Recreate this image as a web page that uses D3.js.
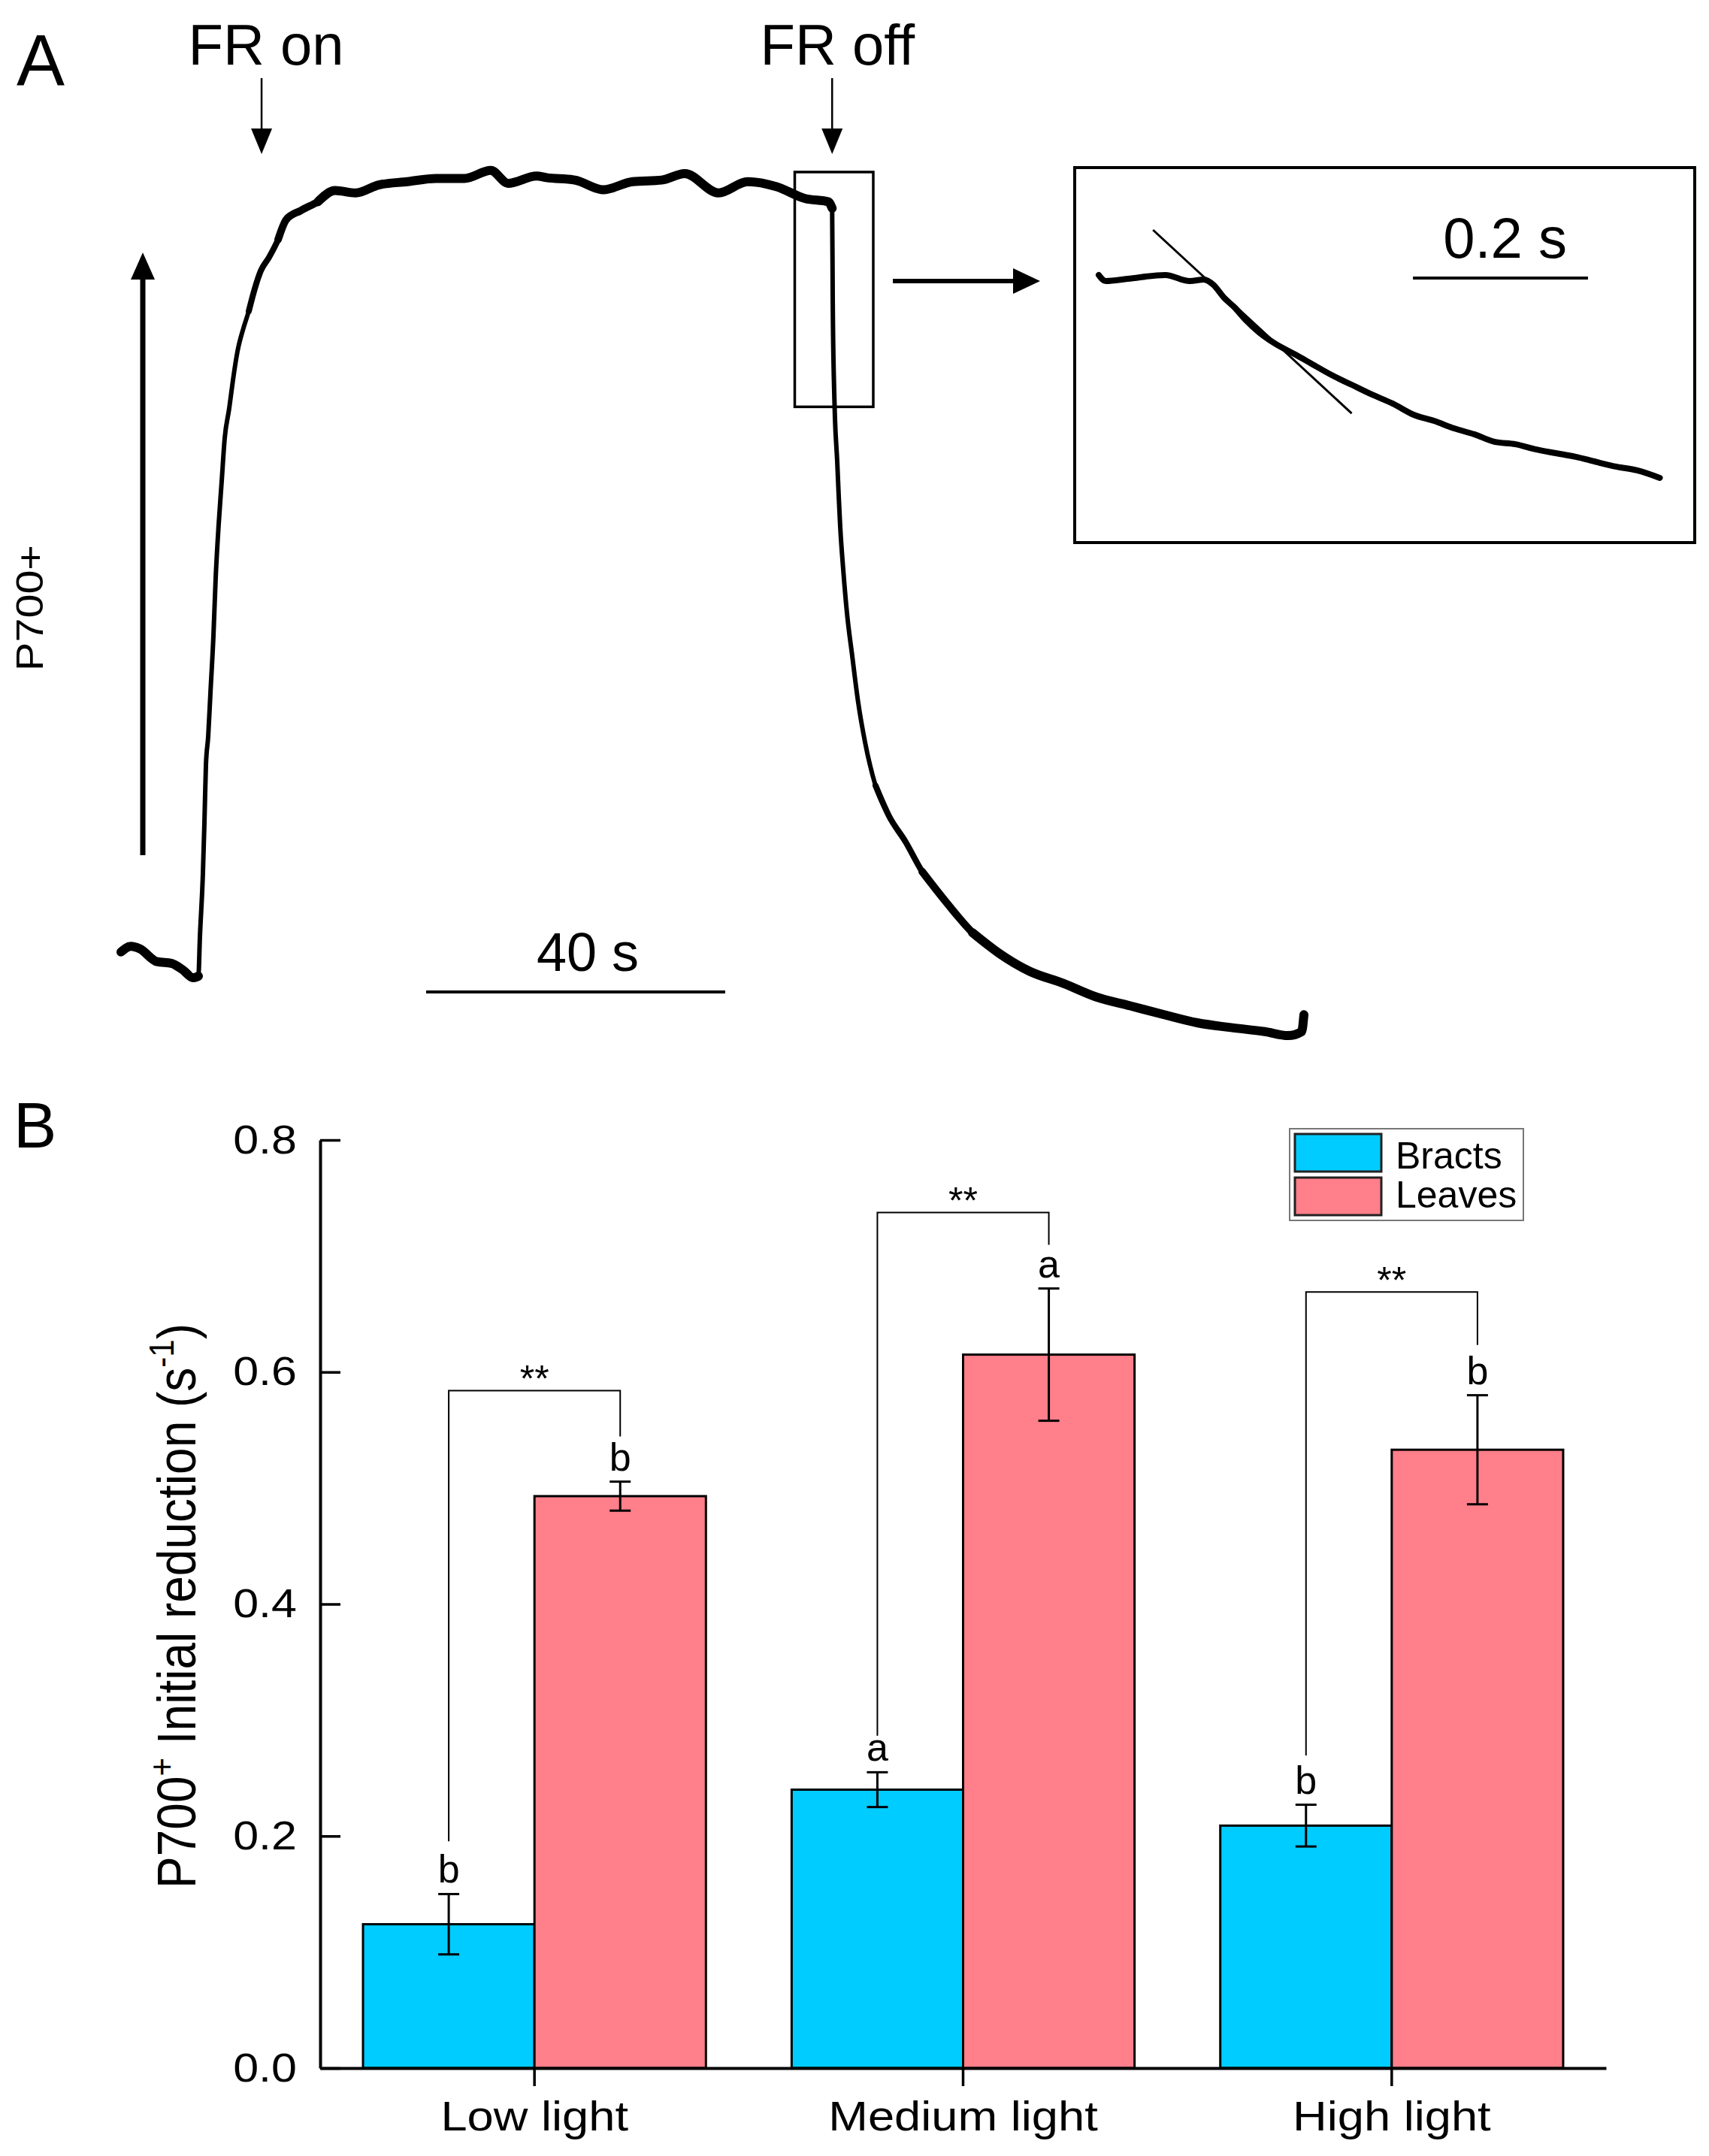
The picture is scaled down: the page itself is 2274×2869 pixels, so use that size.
<!DOCTYPE html>
<html>
<head>
<meta charset="utf-8">
<script src="https://cdn.jsdelivr.net/npm/d3@7"></script>
<style>
  body { margin: 0; background: #fff; }
  text { font-family: "Liberation Sans", Arial, sans-serif; fill: #000; }
</style>
</head>
<body>
<div id="chart"></div>
<script>
// ---- Panel A: P700 trace (time in s, signal in relative units) ----
const traceT = [0, 1.31, 2.51, 4.82, 6.73, 8.24, 9.65, 10.35,
  10.55, 10.95, 11.16, 11.36, 11.66, 11.96, 12.36, 12.66, 13.07, 13.47, 13.87, 14.47, 14.97, 15.58,
  16.38, 17.09, 17.89, 18.69, 19.80, 21.01, 22.11, 24.02, 26.33, 28.64, 31.36, 34.47, 38.29, 42.11,
  45.93, 49.45, 51.76, 55.58, 56.9, 60.7, 64.5, 68.4, 72.3, 75.4, 79.9, 83.8, 87.6, 91.5, 94.6, 95.1,
  95.18, 95.38, 95.48, 95.78, 95.98, 96.18, 96.58, 97.09, 97.79, 98.59, 99.50, 100.90, 102.71, 104.92,
  107.14, 110.35, 113.87, 117.49, 121.51, 126.03, 130.45, 134.97, 139.50, 143.92, 148.44, 152.96,
  156.08, 157.89, 158.19];
const traceV = [0.031, 0.038, 0.035, 0.019, 0.017, 0.009, -0.001, 0.001,
  0.049, 0.128, 0.193, 0.264, 0.299, 0.353, 0.424, 0.496, 0.564, 0.617, 0.670, 0.707, 0.742, 0.778,
  0.807, 0.828, 0.856, 0.878, 0.895, 0.917, 0.942, 0.953, 0.964, 0.978, 0.975, 0.985, 0.989, 0.993,
  0.993, 1.003, 0.987, 0.996, 0.994, 0.991, 0.979, 0.989, 0.991, 0.999, 0.975, 0.989, 0.983, 0.968, 0.964, 0.956,
  0.842, 0.726, 0.694, 0.641, 0.598, 0.560, 0.507, 0.452, 0.399, 0.341, 0.292, 0.238, 0.200, 0.168,
  0.131, 0.093, 0.055, 0.029, 0.007, -0.008, -0.025, -0.036, -0.047, -0.057, -0.063, -0.068,
  -0.073, -0.068, -0.047];

// magnified window after FR off
const windowT = [90.1, 100.6];
const windowV = [0.709, 1.001];
const frOnT = 18.8, frOffT = 95.1;
const barStartT = 40.8, barLenT = 40;

// inset trace (s, relative units)
const insetT = [0, 0.008, 0.033, 0.076, 0.104, 0.120, 0.131, 0.143, 0.155, 0.168, 0.183, 0.201, 0.225, 0.243,
  0.266, 0.289, 0.312, 0.336, 0.360, 0.383, 0.406, 0.429, 0.452, 0.476, 0.499, 0.522, 0.545, 0.569, 0.592, 0.615, 0.641];
const insetV = [1.015, 0.985, 0.996, 1.015, 0.985, 0.993, 0.967, 0.904, 0.856, 0.793, 0.733, 0.678, 0.622, 0.578,
  0.522, 0.474, 0.426, 0.381, 0.326, 0.296, 0.259, 0.230, 0.193, 0.181, 0.156, 0.137, 0.119, 0.093, 0.070, 0.052, 0.015];
const tangentT = [0.062, 0.289];
const tangentV = [1.237, 0.333];
const insetBarStart = 0.359, insetBarLen = 0.2;

// ---- Panel B: bar chart ----
const categories = ["Low light", "Medium light", "High light"];
const series = ["Bracts", "Leaves"];
const bracts = [0.124, 0.240, 0.209];
const leaves = [0.493, 0.615, 0.533];
const bractsErr = [0.026, 0.015, 0.018];
const leavesErr = [0.0125, 0.057, 0.047];
const bractsLetters = ["b", "a", "b"];
const leavesLetters = ["b", "a", "b"];
const bracketTop = [0.584, 0.7375, 0.669];
const bracketLeftEnd = [0.1955, 0.2865, 0.2695];
const bracketRightEnd = [0.5445, 0.7096, 0.6234];
const yTicks = [0, 0.2, 0.4, 0.6, 0.8];
const colors = { Bracts: "#00CCFF", Leaves: "#FF7F8A" };

const W = 2274, H = 2869;
const svg = d3.select("#chart").append("svg")
  .attr("width", W).attr("height", H).style("display", "block");

function label(g, x, y, s, size, anchor, sx) {
  return g.append("text")
    .attr("transform", `translate(${x},${y}) scale(${sx || 1},1)`)
    .attr("text-anchor", anchor || "start")
    .attr("font-size", size)
    .text(s);
}

function downArrow(g, x, y0, y1) {
  g.append("line").attr("x1", x).attr("x2", x).attr("y1", y0).attr("y2", y1 - 30)
    .attr("stroke", "#000").attr("stroke-width", 2.5);
  g.append("path").attr("d", `M${x},${y1} L${x - 14},${y1 - 34} L${x + 14},${y1 - 34} Z`);
}

// ===== Panel A =====
const a = svg.append("g");
const xA = d3.scaleLinear().domain([0, 160]).range([161, 1753]);
const yA = d3.scaleLinear().domain([0, 1]).range([1300, 230]);

label(a, 22, 113, "A", 96);

const trace = d3.zip(traceT, traceV);
// the slow (noisy) parts of the record print heavier than the fast transients,
// so stack a few passes that cover progressively narrower stretches
const passes = [
  { w: 6, keep: d => true },
  { w: 8, keep: d => d[0] < 10.4 || (d[0] > 17 && d[0] < 95.15) || d[0] > 100 },
  { w: 10, keep: d => d[0] < 10.4 || (d[0] > 21 && d[0] < 95.15) || d[0] > 105 },
  { w: 12, keep: d => d[0] < 10.4 || (d[0] > 26 && d[0] < 95.15) || d[0] > 112 }
];
passes.forEach(p => {
  a.append("path")
    .datum(trace)
    .attr("d", d3.line().x(d => xA(d[0])).y(d => yA(d[1]))
      .defined(p.keep).curve(d3.curveMonotoneX))
    .attr("fill", "none").attr("stroke", "#000")
    .attr("stroke-width", p.w).attr("stroke-linejoin", "round").attr("stroke-linecap", "round");
});

// FR on / off markers
label(a, xA(frOnT) + 6, 86, "FR on", 76, "middle");
label(a, xA(frOffT) + 7, 86, "FR off", 76, "middle");
downArrow(a, xA(frOnT), 104, 205);
downArrow(a, xA(frOffT), 104, 205);

// P700+ upward arrow and label
a.append("line").attr("x1", 190).attr("x2", 190).attr("y1", 1138).attr("y2", 366)
  .attr("stroke", "#000").attr("stroke-width", 7);
a.append("path").attr("d", "M190,336 L174,372 L206,372 Z");
a.append("text")
  .attr("transform", "translate(57,809) scale(1,1.15) rotate(-90)")
  .attr("text-anchor", "middle").attr("font-size", 50)
  .text("P700+");

// 40 s scale bar
a.append("line")
  .attr("x1", xA(barStartT)).attr("x2", xA(barStartT + barLenT))
  .attr("y1", 1320).attr("y2", 1320)
  .attr("stroke", "#000").attr("stroke-width", 4);
label(a, (xA(barStartT) + xA(barStartT + barLenT)) / 2 + 16, 1292, "40 s", 72, "middle");

// window box + arrow to inset
a.append("rect")
  .attr("x", xA(windowT[0])).attr("y", yA(windowV[1]))
  .attr("width", xA(windowT[1]) - xA(windowT[0])).attr("height", yA(windowV[0]) - yA(windowV[1]))
  .attr("fill", "none").attr("stroke", "#000").attr("stroke-width", 3.5);
a.append("line").attr("x1", 1188).attr("x2", 1352).attr("y1", 374).attr("y2", 374)
  .attr("stroke", "#000").attr("stroke-width", 6);
a.append("path").attr("d", "M1384,374 L1348,357 L1348,391 Z");

// inset
a.append("rect").attr("x", 1430).attr("y", 223).attr("width", 825).attr("height", 499)
  .attr("fill", "none").attr("stroke", "#000").attr("stroke-width", 4);
const xI = d3.scaleLinear().domain([0, 0.65]).range([1462, 2219]);
const yI = d3.scaleLinear().domain([0, 1]).range([640, 370]);
a.append("path")
  .datum(d3.zip(insetT, insetV))
  .attr("d", d3.line().x(d => xI(d[0])).y(d => yI(d[1])).curve(d3.curveMonotoneX))
  .attr("fill", "none").attr("stroke", "#000")
  .attr("stroke-width", 8).attr("stroke-linejoin", "round").attr("stroke-linecap", "round");
a.append("line")
  .attr("x1", xI(tangentT[0])).attr("y1", yI(tangentV[0]))
  .attr("x2", xI(tangentT[1])).attr("y2", yI(tangentV[1]))
  .attr("stroke", "#000").attr("stroke-width", 3);
a.append("line")
  .attr("x1", xI(insetBarStart)).attr("x2", xI(insetBarStart + insetBarLen))
  .attr("y1", 370).attr("y2", 370)
  .attr("stroke", "#000").attr("stroke-width", 4);
label(a, (xI(insetBarStart) + xI(insetBarStart + insetBarLen)) / 2 + 6, 343, "0.2 s", 76, "middle");

// ===== Panel B =====
const b = svg.append("g");
label(b, 18, 1527, "B", 86);

const x = d3.scaleBand().domain(categories).range([426, 2137]).paddingInner(0.2).paddingOuter(0.1);
const xSub = d3.scaleBand().domain(series).range([0, x.bandwidth()]);
const y = d3.scaleLinear().domain([0, 0.8]).range([2752, 1517]);

const rows = categories.map((c, i) => ({
  cat: c,
  vals: [
    { s: "Bracts", v: bracts[i], e: bractsErr[i], l: bractsLetters[i] },
    { s: "Leaves", v: leaves[i], e: leavesErr[i], l: leavesLetters[i] }
  ],
  top: bracketTop[i], le: bracketLeftEnd[i], re: bracketRightEnd[i]
}));

const grp = b.selectAll(".grp").data(rows).enter().append("g")
  .attr("class", "grp")
  .attr("transform", d => `translate(${x(d.cat)},0)`);

grp.selectAll("rect").data(d => d.vals).enter().append("rect")
  .attr("x", d => xSub(d.s))
  .attr("y", d => y(d.v))
  .attr("width", xSub.bandwidth())
  .attr("height", d => y(0) - y(d.v))
  .attr("fill", d => colors[d.s])
  .attr("stroke", "#000").attr("stroke-width", 3);

// error bars
const eb = grp.selectAll(".err").data(d => d.vals).enter().append("g").attr("class", "err");
const cx = d => xSub(d.s) + xSub.bandwidth() / 2;
eb.append("line")
  .attr("x1", cx).attr("x2", cx)
  .attr("y1", d => y(d.v + d.e)).attr("y2", d => y(d.v - d.e))
  .attr("stroke", "#000").attr("stroke-width", 3);
eb.selectAll(".cap").data(d => [[d, d.v + d.e], [d, d.v - d.e]]).enter().append("line")
  .attr("x1", p => cx(p[0]) - 14).attr("x2", p => cx(p[0]) + 14)
  .attr("y1", p => y(p[1])).attr("y2", p => y(p[1]))
  .attr("stroke", "#000").attr("stroke-width", 3);
eb.append("text")
  .attr("x", cx).attr("y", d => y(d.v + d.e) - 15)
  .attr("text-anchor", "middle").attr("font-size", 52)
  .text(d => d.l);

// significance brackets
grp.append("path")
  .attr("d", d => {
    const x0 = cx(d.vals[0]), x1 = cx(d.vals[1]);
    return `M${x0},${y(d.le)} V${y(d.top)} H${x1} V${y(d.re)}`;
  })
  .attr("fill", "none").attr("stroke", "#000").attr("stroke-width", 2);
grp.append("text")
  .attr("x", d => (cx(d.vals[0]) + cx(d.vals[1])) / 2)
  .attr("y", d => y(d.top) + 2)
  .attr("text-anchor", "middle").attr("font-size", 50)
  .text("**");

// axes
const yAxis = b.append("g").attr("transform", "translate(426,0)")
  .call(d3.axisLeft(y).tickValues(yTicks).tickFormat(d3.format(".1f"))
    .tickSize(-27).tickSizeOuter(0).tickPadding(31));
yAxis.select(".domain").attr("stroke-width", 4);
yAxis.selectAll(".tick line").attr("stroke-width", 3.5);
yAxis.selectAll(".tick text")
  .attr("x", -31 / 1.13).attr("dy", null).attr("y", 17)
  .attr("transform", "scale(1.13,1)")
  .attr("font-size", 54).attr("font-family", null).attr("fill", "#000");

const xAxis = b.append("g").attr("transform", "translate(0,2752)")
  .call(d3.axisBottom(x).tickSize(24).tickSizeOuter(0));
xAxis.select(".domain").attr("stroke-width", 4);
xAxis.selectAll(".tick line").attr("stroke-width", 3.5);
xAxis.selectAll(".tick text")
  .attr("y", 83).attr("dy", null)
  .attr("transform", "scale(1.15,1)")
  .attr("font-size", 55).attr("font-family", null).attr("fill", "#000");

// y-axis title
const yt = b.append("text")
  .attr("transform", "translate(260,2137) scale(1.12,1) rotate(-90)")
  .attr("text-anchor", "middle").attr("font-size", 64);
yt.append("tspan").text("P700");
yt.append("tspan").attr("dy", -26).attr("font-size", 42).text("+");
yt.append("tspan").attr("dy", 26).text(" Initial reduction (s");
yt.append("tspan").attr("dy", -26).attr("font-size", 42).text("-1");
yt.append("tspan").attr("dy", 26).text(")");

// legend
const lg = b.append("g");
lg.append("rect").attr("x", 1716).attr("y", 1502).attr("width", 311).attr("height", 122)
  .attr("fill", "#fff").attr("stroke", "#777").attr("stroke-width", 2);
lg.selectAll(".sw").data(series).enter().append("rect")
  .attr("x", 1723).attr("y", (d, i) => 1509 + i * 58)
  .attr("width", 115).attr("height", 50)
  .attr("fill", d => colors[d]).attr("stroke", "#222").attr("stroke-width", 3);
lg.selectAll(".lt").data(series).enter().append("text")
  .attr("x", 1857).attr("y", (d, i) => 1555 + i * 52)
  .attr("font-size", 50)
  .text(d => d);
</script>
</body>
</html>
